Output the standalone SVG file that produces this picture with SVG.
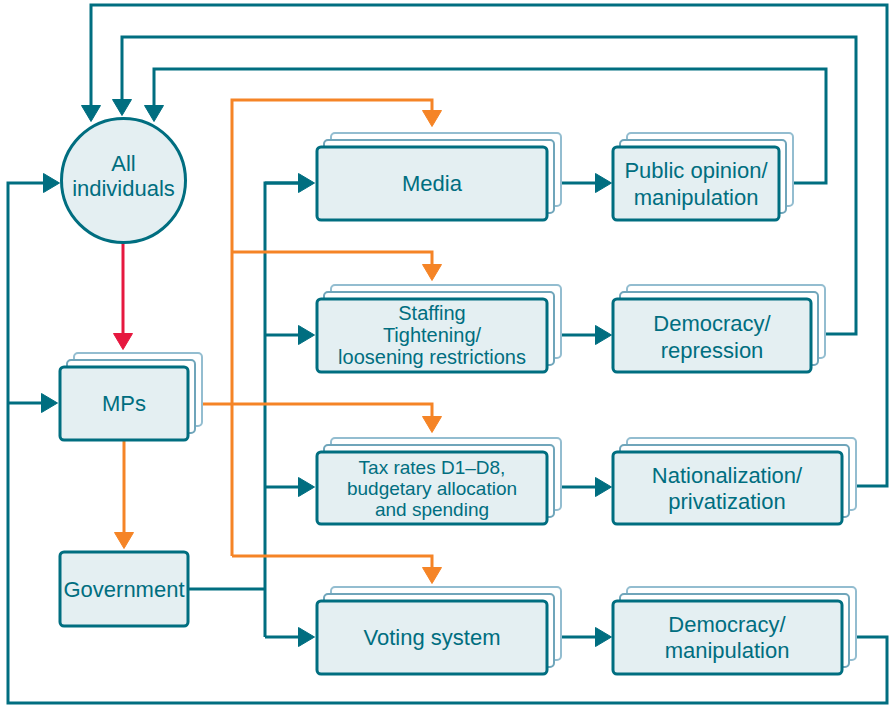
<svg xmlns="http://www.w3.org/2000/svg" width="889" height="705" viewBox="0 0 889 705">
<defs>
<style>
.t{font-family:"Liberation Sans",Arial,sans-serif;font-size:22px;fill:#006E80;text-anchor:middle;dominant-baseline:central}
.s{font-size:19px}
.m{font-size:20px}
.f{fill:#E4EFF2;stroke:#006E80;stroke-width:3}
.b1{fill:#fff;stroke:#93BDD0;stroke-width:2}
.b2{fill:#fff;stroke:#6FA5BA;stroke-width:2}
.c{fill:none;stroke:#006E80;stroke-width:3;stroke-linejoin:miter}
.o{fill:none;stroke:#F58426;stroke-width:3}
.r{fill:none;stroke:#E6183F;stroke-width:3}
</style>
<marker id="at" viewBox="0 0 17 20" refX="2" refY="10" markerWidth="17" markerHeight="20" markerUnits="userSpaceOnUse" orient="auto"><path d="M0.5,0.5 L16.5,10 L0.5,19.5 z" fill="#006E80" stroke="#006E80" stroke-width="1" stroke-linejoin="round"/></marker>
<marker id="ao" viewBox="0 0 17 20" refX="2" refY="10" markerWidth="17" markerHeight="20" markerUnits="userSpaceOnUse" orient="auto"><path d="M0.5,0.5 L16.5,10 L0.5,19.5 z" fill="#F58426" stroke="#F58426" stroke-width="1" stroke-linejoin="round"/></marker>
<marker id="ar" viewBox="0 0 17 20" refX="2" refY="10" markerWidth="17" markerHeight="20" markerUnits="userSpaceOnUse" orient="auto"><path d="M0.5,0.5 L16.5,10 L0.5,19.5 z" fill="#E6183F" stroke="#E6183F" stroke-width="1" stroke-linejoin="round"/></marker>
</defs>
<rect width="889" height="705" fill="#fff"/>

<g id="connectors">
<path class="c" d="M857,486 H887 V5 H91 V107" marker-end="url(#at)"/>
<path class="c" d="M826,334 H856 V37 H122 V101" marker-end="url(#at)"/>
<path class="c" d="M793,183 H826 V69 H154 V107" marker-end="url(#at)"/>
<path class="c" d="M857,637 H887 V703 H8 V183 H45" marker-end="url(#at)"/>
<path class="c" d="M8,403 H43" marker-end="url(#at)"/>
<path class="c" d="M265,637 V183 H300"/>
<path class="c" d="M265,183 H300" marker-end="url(#at)"/>
<path class="c" d="M265,335 H300" marker-end="url(#at)"/>
<path class="c" d="M265,487 H300" marker-end="url(#at)"/>
<path class="c" d="M265,637 H300" marker-end="url(#at)"/>
<path class="c" d="M188,589 H265"/>
<path class="c" d="M561,183 H597" marker-end="url(#at)"/>
<path class="c" d="M561,335 H597" marker-end="url(#at)"/>
<path class="c" d="M561,487 H597" marker-end="url(#at)"/>
<path class="c" d="M561,637 H597" marker-end="url(#at)"/>
<path class="o" d="M232,556 V100 H432 V112" marker-end="url(#ao)"/>
<path class="o" d="M232,252 H432 V266" marker-end="url(#ao)"/>
<path class="o" d="M202,404 H432 V418" marker-end="url(#ao)"/>
<path class="o" d="M232,556 H432 V569" marker-end="url(#ao)"/>
<path class="o" d="M124,441 V534" marker-end="url(#ao)"/>
<path class="r" d="M123,243 V335" marker-end="url(#ar)"/>
</g>

<g id="all-individuals">
<circle cx="123.5" cy="180.5" r="62" class="f"/>
<text class="t" x="123.5" y="163">All</text>
<text class="t" x="123.5" y="188">individuals</text>
</g>

<g id="mps">
<rect x="74" y="353" width="128" height="73" rx="4" class="b1"/>
<rect x="67" y="360" width="128" height="73" rx="4" class="b2"/>
<rect x="60" y="367" width="128" height="73" rx="4" class="f"/>
<text class="t" x="124" y="403">MPs</text>
</g>

<g id="government">
<rect x="60" y="552" width="128" height="74" rx="4" class="f"/>
<text class="t" x="124" y="589">Government</text>
</g>

<g id="media">
<rect x="331" y="133" width="230" height="73" rx="4" class="b1"/>
<rect x="324" y="140" width="230" height="73" rx="4" class="b2"/>
<rect x="317" y="147" width="230" height="73" rx="4" class="f"/>
<text class="t" x="432" y="183">Media</text>
</g>

<g id="staffing">
<rect x="331" y="285" width="230" height="73" rx="4" class="b1"/>
<rect x="324" y="292" width="230" height="73" rx="4" class="b2"/>
<rect x="317" y="299" width="230" height="73" rx="4" class="f"/>
<text class="t m" x="432" y="313">Staffing</text>
<text class="t m" x="432" y="335">Tightening/</text>
<text class="t m" x="432" y="357">loosening restrictions</text>
</g>

<g id="tax">
<rect x="331" y="438" width="230" height="72" rx="4" class="b1"/>
<rect x="324" y="445" width="230" height="72" rx="4" class="b2"/>
<rect x="317" y="452" width="230" height="72" rx="4" class="f"/>
<text class="t s" x="432" y="467">Tax rates D1–D8,</text>
<text class="t s" x="432" y="488">budgetary allocation</text>
<text class="t s" x="432" y="509">and spending</text>
</g>

<g id="voting">
<rect x="331" y="587" width="230" height="73" rx="4" class="b1"/>
<rect x="324" y="594" width="230" height="73" rx="4" class="b2"/>
<rect x="317" y="601" width="230" height="73" rx="4" class="f"/>
<text class="t" x="432" y="637">Voting system</text>
</g>

<g id="public-opinion">
<rect x="627" y="133" width="166" height="73" rx="4" class="b1"/>
<rect x="620" y="140" width="166" height="73" rx="4" class="b2"/>
<rect x="613" y="147" width="166" height="73" rx="4" class="f"/>
<text class="t" x="696" y="170">Public opinion/</text>
<text class="t" x="696" y="197">manipulation</text>
</g>

<g id="democracy-repression">
<rect x="627" y="285" width="198" height="73" rx="4" class="b1"/>
<rect x="620" y="292" width="198" height="73" rx="4" class="b2"/>
<rect x="613" y="299" width="198" height="73" rx="4" class="f"/>
<text class="t" x="712" y="323">Democracy/</text>
<text class="t" x="712" y="350">repression</text>
</g>

<g id="nationalization">
<rect x="627" y="438" width="229" height="72" rx="4" class="b1"/>
<rect x="620" y="445" width="229" height="72" rx="4" class="b2"/>
<rect x="613" y="452" width="229" height="72" rx="4" class="f"/>
<text class="t" x="727" y="475">Nationalization/</text>
<text class="t" x="727" y="501">privatization</text>
</g>

<g id="democracy-manipulation">
<rect x="627" y="587" width="229" height="73" rx="4" class="b1"/>
<rect x="620" y="594" width="229" height="73" rx="4" class="b2"/>
<rect x="613" y="601" width="229" height="73" rx="4" class="f"/>
<text class="t" x="727" y="624">Democracy/</text>
<text class="t" x="727" y="650">manipulation</text>
</g>
</svg>
